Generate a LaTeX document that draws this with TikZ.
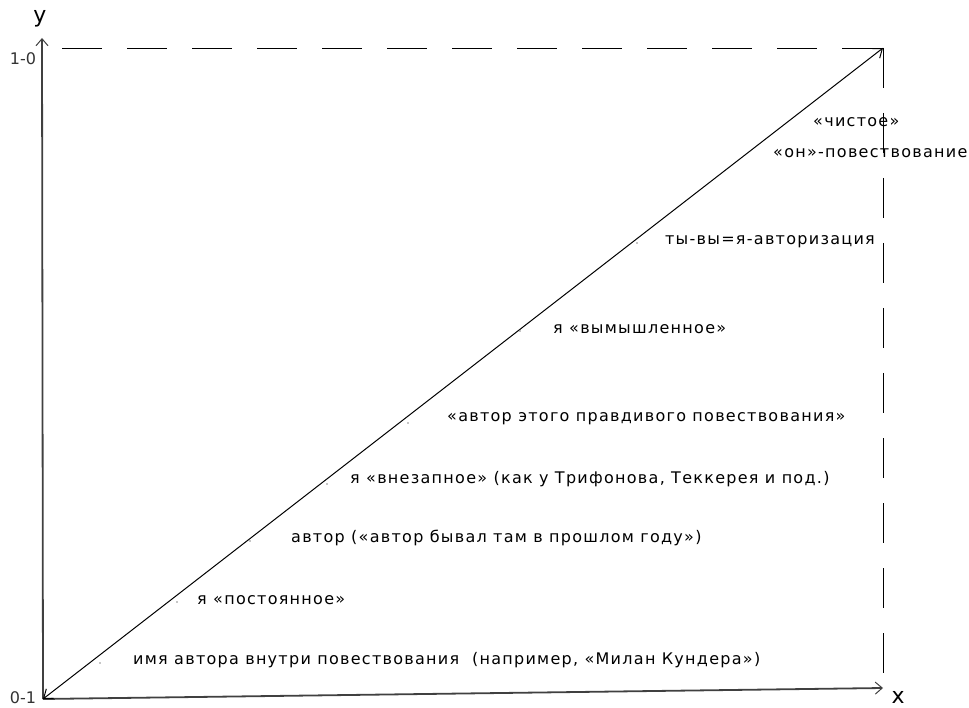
\documentclass[tikz,border=0pt]{standalone}
\usepackage{fontspec}
\setmainfont{DejaVu Sans}
\newfontfamily\lblfont[LetterSpace=8]{DejaVu Sans}
\usetikzlibrary{arrows.meta}
\begin{document}
\begin{tikzpicture}[x=1pt,y=-1pt,
  axis/.style={draw=black!75, line width=1.8pt, -{Straight Barb[length=7pt,width=12pt,line width=1pt]}},
  diag/.style={draw=black, line width=1pt, {Straight Barb[length=8pt,width=12pt]}-{Straight Barb[length=8pt,width=12pt]}},
  guide/.style={draw=black, line width=0.9pt, dash pattern=on 40pt off 25pt},
  lbl/.style={anchor=west, inner sep=0pt, font=\lblfont\fontsize{16}{18}\selectfont},
  tick/.style={inner sep=0pt, font=\fontsize{16}{18}\selectfont, text=black!80},
  axname/.style={inner sep=0pt, font=\fontsize{22}{24}\selectfont},
  mark dot/.style={fill=black!45, draw=none, circle, minimum size=1.6pt, inner sep=0pt}]
  \useasboundingbox (0,0) rectangle (969,708);

  % axes and the end points of the diagonal
  \coordinate (O) at (43,699);
  \coordinate (Ytop) at (42,38);
  \coordinate (Xend) at (883,688);
  \coordinate (Corner) at (883,48);
  \coordinate (Top) at (62,48);
  \coordinate (Bot) at (883,680);

  % dashed guides
  \draw[guide] (Top) -- (Corner);
  \draw[guide] (Corner) -- (Bot);

  \draw[axis] (O) -- (Ytop);
  \draw[axis] (O) -- (Xend);
  \draw[diag] (O) -- (Corner);

  % axis names and end values
  \node[axname] (ylab) at (40,19) {y};
  \node[axname] (xlab) at (898,697) {x};
  \node[tick] (t10) at (23,59) {1-0};
  \node[tick] (t01) at (23,698) {0-1};

  % marks on the diagonal
  \node[mark dot] (m1) at (637,243) {};
  \node[mark dot] (m2) at (520,331) {};
  \node[mark dot] (m3) at (408,423) {};
  \node[mark dot] (m4) at (327,484) {};
  \node[mark dot] (m5) at (250,541) {};
  \node[mark dot] (m6) at (177,602) {};
  \node[mark dot] (m7) at (100,663) {};

  % labels along the diagonal
  \node[lbl] (a1) at (813,122) {«чистое»};
  \node[lbl] (a2) at (773,153) {«он»-повествование};
  \node[lbl, anchor=east] (a3) at (875,242) {ты-вы=я-авторизация};
  \node[lbl] (a4) at (553,329) {я «вымышленное»};
  \node[lbl] (a5) at (447,419) {«автор этого правдивого повествования»};
  \node[lbl] (a6) at (350,479) {я «внезапное» (как у Трифонова, Теккерея и под.)};
  \node[lbl] (a7) at (291,538) {автор («автор бывал там в прошлом году»)};
  \node[lbl] (a8) at (197,600) {я «постоянное»};
  \node[lbl] (a9) at (133,660) {имя автора внутри повествования~ (например, «Милан Кундера»)};
\end{tikzpicture}
\end{document}
